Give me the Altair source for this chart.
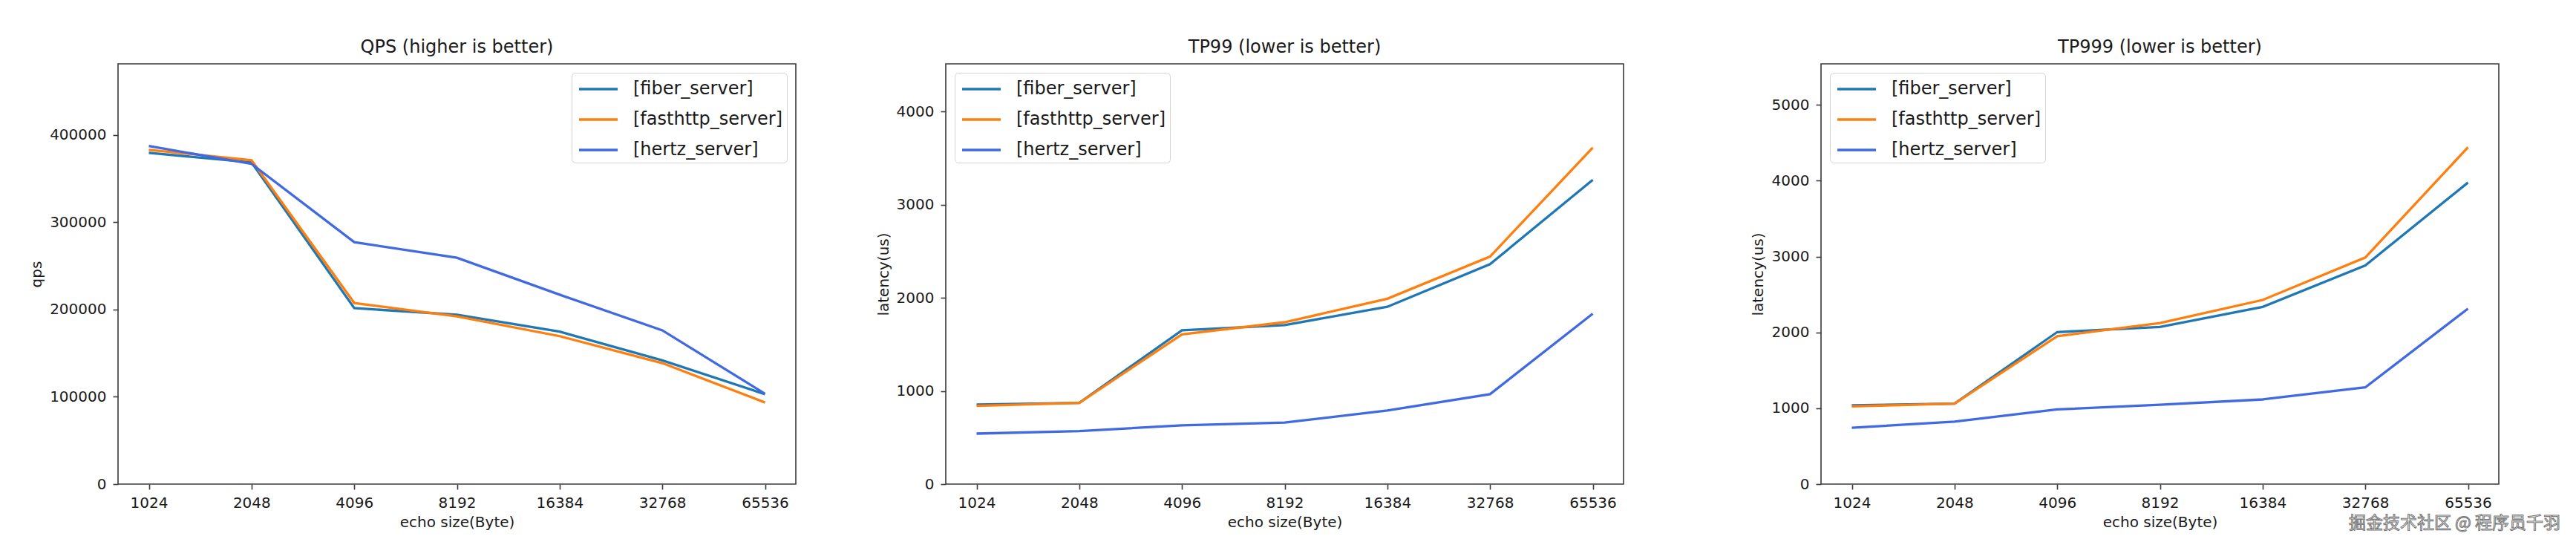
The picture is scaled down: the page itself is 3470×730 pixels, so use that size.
import altair as alt
import pandas as pd

sizes = ["1024", "2048", "4096", "8192", "16384", "32768", "65536"]
servers = ["[fiber_server]", "[fasthttp_server]", "[hertz_server]"]
colors = ["#1f77b4", "#ff7f0e", "#4169e1"]

qps_fiber = [379600, 368600, 201600, 194000, 174700, 141800, 103000]
qps_fasthttp = [383000, 371100, 207500, 192100, 169500, 138600, 93500]
qps_hertz = [387300, 366900, 277200, 259400, 217000, 176200, 103500]

tp99_fiber = [853, 872, 1651, 1707, 1903, 2360, 3265]
tp99_fasthttp = [839, 872, 1607, 1737, 1989, 2442, 3610]
tp99_hertz = [542, 568, 631, 660, 790, 965, 1829]

tp999_fiber = [1038, 1061, 2004, 2072, 2336, 2883, 3975]
tp999_fasthttp = [1025, 1061, 1949, 2122, 2427, 2987, 4440]
tp999_hertz = [742, 824, 984, 1047, 1116, 1275, 2313]

titles = ["QPS (higher is better)", "TP99 (lower is better)", "TP999 (lower is better)"]
y_titles = ["qps", "latency(us)", "latency(us)"]
y_ticks = [[0, 100000, 200000, 300000, 400000],
           [0, 1000, 2000, 3000, 4000],
           [0, 1000, 2000, 3000, 4000, 5000]]
y_domains = [[0, 481500], [0, 4510], [0, 5540]]
watermark = "掘金技术社区 @ 程序员千羽"

W, H = 913, 566
FONT = "DejaVu Sans"
INK = "#1a1a1a"
FRAME = "#3a3a3a"


def frame(series):
    rows = []
    for name, vals in zip(servers, series):
        for s, v in zip(sizes, vals):
            rows.append({"size": s, "server": name, "value": v})
    return pd.DataFrame(rows)


def panel(series, idx, legend_orient, title_x):
    df = frame(series)
    legend = alt.Legend(
        title=None, orient=legend_orient, offset=12,
        labelFont=FONT, labelFontSize=24, labelColor=INK, labelLimit=0,
        symbolType="M-0.8,0L2.67,0", symbolSize=900, symbolStrokeWidth=3.3,
        symbolFillColor="transparent",
        labelOffset=44, rowPadding=12, padding=5,
        strokeColor="#d4d4d4", cornerRadius=5, fillColor="white",
    )
    base = alt.Chart(df).mark_line(strokeWidth=3.3).encode(
        x=alt.X("size:N", sort=sizes,
                scale=alt.Scale(type="point", padding=0.3),
                axis=alt.Axis(title="echo size(Byte)", labelAngle=0,
                              labelPadding=8, titleY=51, titleBaseline="middle")),
        y=alt.Y("value:Q",
                scale=alt.Scale(domain=y_domains[idx], nice=False, zero=True),
                axis=alt.Axis(title=y_titles[idx], values=y_ticks[idx], format="d",
                              labelPadding=9, titleX=title_x,
                              titleBaseline="middle", titleAlign="center")),
        color=alt.Color("server:N", sort=servers,
                        scale=alt.Scale(domain=servers, range=colors),
                        legend=legend),
    )
    layers = [base]
    if idx == 2:
        wm = alt.Chart(pd.DataFrame({"t": [watermark]})).mark_text(
            font="Noto Sans CJK SC", fontSize=23, align="right", baseline="middle",
            fill="white", stroke="#7a7a7a", strokeWidth=1.1,
        ).encode(text="t:N", x=alt.value(W + 83), y=alt.value(619))
        layers.append(wm)
    ch = alt.layer(*layers) if len(layers) > 1 else base
    return ch.properties(
        width=W, height=H,
        title=alt.TitleParams(titles[idx], font=FONT, fontSize=24, fontWeight="normal",
                              color=INK, offset=-9, baseline="alphabetic", frame="group",
                              anchor="middle"),
    )


p1 = panel([qps_fiber, qps_fasthttp, qps_hertz], 0, "top-right", -110)
p2 = panel([tp99_fiber, tp99_fasthttp, tp99_hertz], 1, "top-left", -84)
p3 = panel([tp999_fiber, tp999_fasthttp, tp999_hertz], 2, "top-left", -85)

inner = alt.hconcat(p1, p2, spacing=202, bounds="flush").resolve_legend(color="independent").resolve_scale(y="independent", color="independent")
chart = alt.hconcat(inner, p3, spacing=2294, bounds="flush").resolve_legend(color="independent").resolve_scale(y="independent", color="independent")

chart = chart.properties(
    padding={"left": 30, "top": 43, "right": 5, "bottom": 5},
    background="white",
).configure_view(
    stroke=FRAME, strokeWidth=1.6
).configure_axis(
    grid=False, domain=False, ticks=True, tickSize=7, tickWidth=1.6, tickColor=FRAME,
    labelFont=FONT, labelFontSize=20, labelColor=INK,
    titleFont=FONT, titleFontSize=20, titleColor=INK, titleFontWeight="normal",
)

chart.save("out.html", embed_options={"renderer": "svg", "actions": False})
